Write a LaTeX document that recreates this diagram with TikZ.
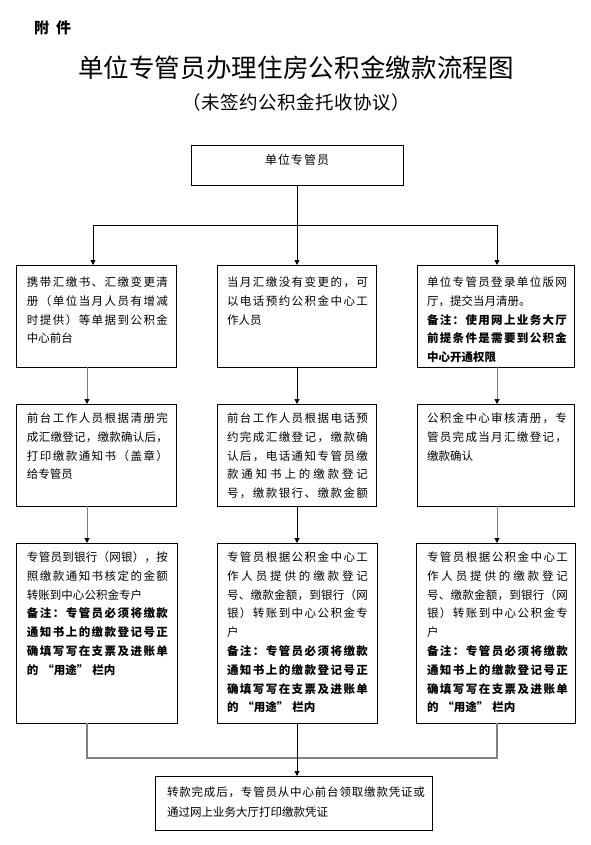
\documentclass[tikz,border=0pt]{standalone}
\usepackage{fontspec}
\setmainfont{Noto Sans CJK SC}
\usetikzlibrary{arrows.meta}
\ExplSyntaxOn
\NewDocumentCommand\spread{O{141pt} m}{\makebox[#1][s]{\tl_map_inline:nn{#2}{##1\hfil}\unskip}}
\ExplSyntaxOff
\newcommand\boxtext[1]{\parbox[t]{141pt}{\fontsize{11.5}{18.8}\selectfont #1}}
\newcommand\yongtu{的\hspace{4pt}“用途”\hspace{4pt}栏内}
\begin{document}
\begin{tikzpicture}[x=1pt,y=-1pt,
  box/.style={draw, line width=1pt, inner sep=0pt, outer sep=0pt, anchor=north west},
  txt/.style={anchor=base west, inner sep=0pt, outer sep=0pt},
  arr/.style={-{Triangle[length=5pt,width=5pt,color=black]}, line width=1pt},
  ln/.style={line width=1pt},
  gln/.style={line width=1.2pt, draw=black!50}]
\useasboundingbox (0,0) rectangle (590,845);
% header
\node[anchor=base west, inner sep=0pt] (fj) at (34,33.7) {\fontsize{15}{15}\selectfont\bfseries\spread[37pt]{附件}};
\node[anchor=base, inner sep=0pt] (title) at (296,77.7) {\fontsize{25.5}{25.5}\selectfont\spread[436pt]{单位专管员办理住房公积金缴款流程图}};
\node[anchor=base, inner sep=0pt] (sub) at (296,110) {\fontsize{18.5}{18.5}\selectfont\spread[228pt]{（未签约公积金托收协议）}};
% boxes
\node[box, minimum width=212pt, minimum height=39pt] (top) at (191,146) {};
\node[anchor=base, inner sep=0pt] (toptxt) at (297,164.5) {\fontsize{12}{12}\selectfont\spread[64pt]{单位专管员}};
\node[box, minimum width=160pt, minimum height=102pt] (l1) at (16,265) {};
\node[box, minimum width=159pt, minimum height=102pt] (c1) at (217,265) {};
\node[box, minimum width=157pt, minimum height=102pt] (r1) at (417,265) {};
\node[box, minimum width=160pt, minimum height=102pt] (l2) at (16,404) {};
\node[box, minimum width=159pt, minimum height=102pt] (c2) at (217,404) {};
\node[box, minimum width=157pt, minimum height=102pt] (r2) at (417,404) {};
\node[box, minimum width=161pt, minimum height=180pt] (l3) at (16,543) {};
\node[box, minimum width=160pt, minimum height=180pt] (c3) at (217,543) {};
\node[box, minimum width=159pt, minimum height=180pt] (r3) at (416,543) {};
\node[box, minimum width=277pt, minimum height=54pt] (bot) at (155,776) {};
% texts
\node[txt] (l1t) at (27,286.4) {\boxtext{\spread{携带汇缴书、汇缴变更清}\\\spread{册（单位当月人员有增减}\\\spread{时提供）等单据到公积金}\\中心前台}};
\node[txt] (c1t) at (227,286.4) {\boxtext{\spread{当月汇缴没有变更的，可}\\\spread{以电话预约公积金中心工}\\作人员}};
\node[txt] (r1t) at (427,286.4) {\boxtext{\spread[140pt]{单位专管员登录单位版网}\\厅，提交当月清册。\\\bfseries\spread[140pt]{备注：使用网上业务大厅}\\\spread[140pt]{前提条件是需要到公积金}\\中心开通权限}};
\node[txt] (l2t) at (27,422.4) {\boxtext{\spread{前台工作人员根据清册完}\\\spread{成汇缴登记，缴款确认后，}\\\spread{打印缴款通知书（盖章）}\\给专管员}};
\node[txt] (c2t) at (227,422.4) {\boxtext{\spread{前台工作人员根据电话预}\\\spread{约完成汇缴登记，缴款确}\\\spread{认后，电话通知专管员缴}\\\spread{款通知书上的缴款登记}\\\spread{号，缴款银行、缴款金额}}};
\node[txt] (r2t) at (427,422.4) {\boxtext{\spread[140pt]{公积金中心审核清册，专}\\\spread[140pt]{管员完成当月汇缴登记，}\\缴款确认}};
\node[txt] (l3t) at (27,561.4) {\boxtext{\spread{专管员到银行（网银），按}\\\spread{照缴款通知书核定的金额}\\转账到中心公积金专户\\\bfseries\spread{备注：专管员必须将缴款}\\\spread{通知书上的缴款登记号正}\\\spread{确填写写在支票及进账单}\\\yongtu}};
\node[txt] (c3t) at (227,561.4) {\boxtext{\spread{专管员根据公积金中心工}\\\spread{作人员提供的缴款登记}\\\spread{号、缴款金额，到银行（网}\\\spread{银）转账到中心公积金专}\\户\\\bfseries\spread{备注：专管员必须将缴款}\\\spread{通知书上的缴款登记号正}\\\spread{确填写写在支票及进账单}\\\yongtu}};
\node[txt] (r3t) at (427,561.4) {\boxtext{\spread{专管员根据公积金中心工}\\\spread{作人员提供的缴款登记}\\\spread{号、缴款金额，到银行（网}\\\spread{银）转账到中心公积金专}\\户\\\bfseries\spread{备注：专管员必须将缴款}\\\spread{通知书上的缴款登记号正}\\\spread{确填写写在支票及进账单}\\\yongtu}};
\node[txt] (bott) at (167,796) {\parbox[t]{260pt}{\fontsize{11.5}{20}\selectfont\spread[258pt]{转款完成后，专管员从中心前台领取缴款凭证或}\\通过网上业务大厅打印缴款凭证}};
% connectors
\coordinate (jc) at (297,225);
\coordinate (jl) at (93,225);
\coordinate (jr) at (497,225);
\coordinate (xl) at (87,0);
\coordinate (xr) at (497,0);
\coordinate (ml) at (87,758);
\coordinate (mr) at (497,758);
\draw[ln] (top.south) -- (jc);
\draw[ln] (jl) -- (jr);
\draw[arr] (jl) -- (jl |- l1.north);
\draw[arr] (jc) -- (jc |- c1.north);
\draw[arr] (jr) -- (jr |- r1.north);
\draw[arr, draw=black!50] (l1.south -| xl) -- (l2.north -| xl);
\draw[arr] (c1.south -| jc) -- (c2.north -| jc);
\draw[arr, draw=black!50] (r1.south -| xr) -- (r2.north -| xr);
\draw[arr, draw=black!50] (l2.south -| xl) -- (l3.north -| xl);
\draw[arr] (c2.south -| jc) -- (c3.north -| jc);
\draw[arr, draw=black!50] (r2.south -| xr) -- (r3.north -| xr);
\draw[gln] (l3.south -| ml) -- (ml) -- (mr) -- (r3.south -| mr);
\draw[arr] (c3.south -| jc) -- (bot.north -| jc);
\end{tikzpicture}
\end{document}
